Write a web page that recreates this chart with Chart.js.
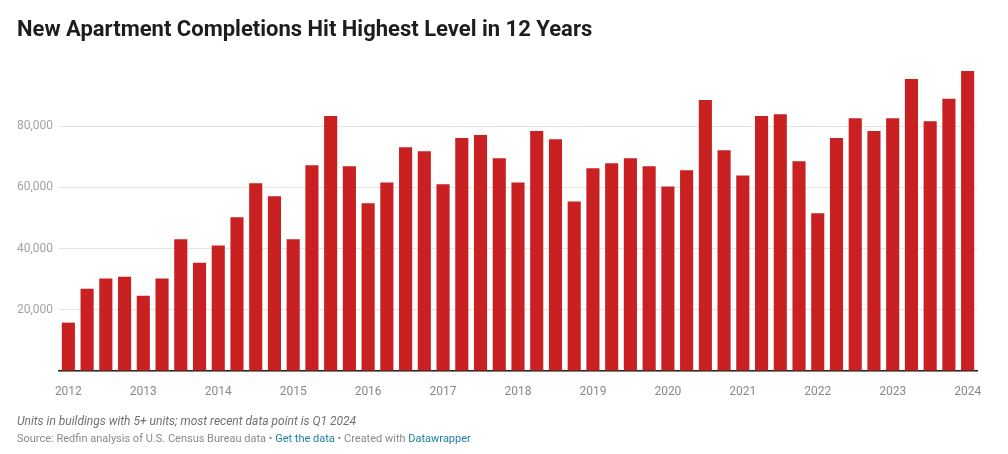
<!DOCTYPE html>
<html>
<head>
<meta charset="utf-8">
<script src="https://cdn.jsdelivr.net/npm/chart.js@4.4.1/dist/chart.umd.min.js"></script>
<style>
  body { margin: 0; background: #fff; font-family: Roboto, sans-serif; }
  #wrap { position: relative; width: 1008px; height: 454px; overflow: hidden; }
  #chart { position: absolute; left: 0; top: 0; }
  .title { position: absolute; left: 17px; top: 16px; font-size: 22px; font-weight: 700; color: #1d1d1d; }
  .notes { position: absolute; left: 17px; top: 414px; font-size: 12px; font-style: italic; color: #707070; }
  .source { position: absolute; left: 17px; top: 432px; font-size: 11px; color: #8a8a8a; }
  .source a { color: #1d81a2; text-decoration: none; }
</style>
</head>
<body>
<div id="wrap">
  <canvas id="chart" width="1008" height="454"></canvas>
  <div class="title">New Apartment Completions Hit Highest Level in 12 Years</div>
  <div class="notes">Units in buildings with 5+ units; most recent data point is Q1 2024</div>
  <div class="source">Source: Redfin analysis of U.S. Census Bureau data • <a href="#">Get the data</a> • Created with <a href="#">Datawrapper</a></div>
</div>
<script>
// quarterly completions, Q1 2012 .. Q1 2024
const years = [2012, 2013, 2014, 2015, 2016, 2017, 2018, 2019, 2020, 2021, 2022, 2023, 2024];
const quarters = [];
years.forEach(y => {
    for (let q = 1; q <= 4; q++) {
        if (y === 2024 && q > 1) break;
        quarters.push(y + ' Q' + q);
    }
});

const completions = [
    15800, 26900, 30200, 30800,
    24600, 30200, 43000, 35400,
    41000, 50200, 61300, 57100,
    43000, 67200, 83300, 66900,
    54800, 61600, 73100, 71800,
    61000, 76100, 77100, 69500,
    61600, 78400, 75700, 55400,
    66200, 67900, 69500, 66900,
    60300, 65600, 88500, 72100,
    63900, 83300, 83900, 68500,
    51500, 76100, 82600, 78400,
    82600, 95400, 81600, 88900,
    98000
];

const yTicks = [0, 20000, 40000, 60000, 80000];

new Chart(document.getElementById('chart'), {
    type: 'bar',
    data: {
        labels: quarters,
        datasets: [{
            data: completions,
            backgroundColor: '#c92121',
            barPercentage: 0.7,
            categoryPercentage: 1.0
        }]
    },
    options: {
        responsive: false,
        animation: false,
        layout: { padding: { top: 71, right: 31, bottom: 59, left: 0 } },
        plugins: {
            legend: { display: false },
            tooltip: { enabled: false }
        },
        scales: {
            x: {
                grid: { display: false },
                border: { display: true, color: '#222', width: 1.5 },
                ticks: {
                    autoSkip: false,
                    maxRotation: 0,
                    padding: 6,
                    color: '#888',
                    font: { family: 'Roboto', size: 12 },
                    callback: function(val, i) {
                        return i % 4 === 0 ? quarters[i].slice(0, 4) : '';
                    }
                },
                afterFit: s => { s.height = 24; }
            },
            y: {
                min: 0,
                max: 98000,
                border: { display: false },
                grid: {
                    color: '#e4e4e4',
                    drawTicks: false
                },
                ticks: {
                    padding: 6,
                    color: '#a3a3a3',
                    font: { family: 'Roboto', size: 12 },
                    callback: v => v === 0 ? '' : v.toLocaleString('en-US')
                },
                afterBuildTicks: s => { s.ticks = yTicks.map(v => ({ value: v })); },
                afterFit: s => { s.width = 59; }
            }
        }
    }
});
</script>
</body>
</html>
